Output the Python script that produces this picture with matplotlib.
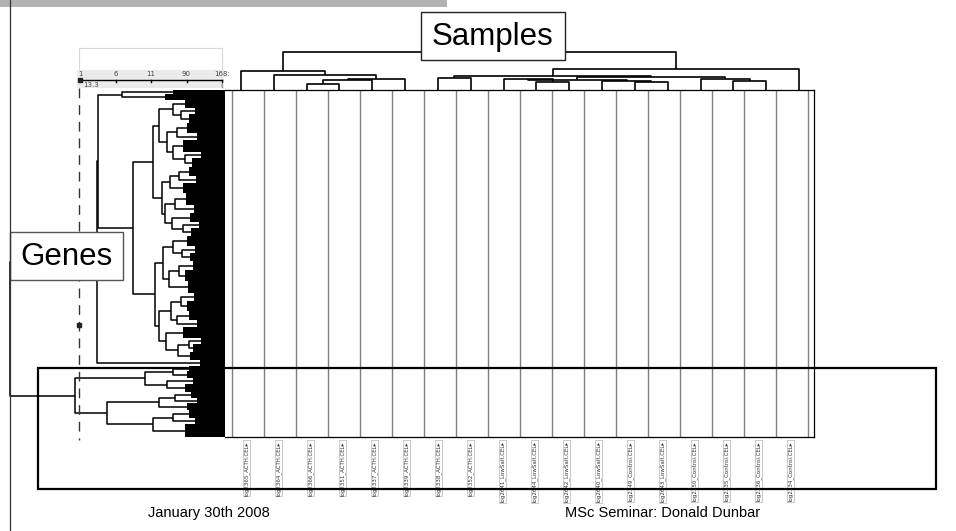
import matplotlib
matplotlib.use('Agg')
import matplotlib.pyplot as plt
from matplotlib.patches import Rectangle
import numpy as np

W, H = 956, 531

# ---- data ----
samples = ["log2365_ACTH.CEL", "log2364_ACTH.CEL", "log2366_ACTH.CEL", "log2351_ACTH.CEL",
           "log2337_ACTH.CEL", "log2339_ACTH.CEL", "log2338_ACTH.CEL", "log2352_ACTH.CEL",
           "log2641_LowSalt.CEL", "log2644_LowSalt.CEL", "log2642_LowSalt.CEL", "log2640_LowSalt.CEL",
           "log2349_Control.CEL", "log2643_LowSalt.CEL", "log2350_Control.CEL", "log2335_Control.CEL",
           "log2336_Control.CEL", "log2334_Control.CEL"]

# sample tree merges: (child a, child b, height); leaves 0..17, new nodes numbered from 18
sample_merges = [
    (2, 3, 6), (18, 4, 10), (19, 5, 11), (1, 20, 15), (0, 21, 19),
    (6, 7, 12), (9, 10, 8.5), (8, 24, 11), (12, 13, 8), (11, 26, 9.5),
    (25, 27, 10), (15, 16, 9), (14, 29, 11), (28, 30, 13), (23, 31, 14),
    (32, 17, 21), (22, 33, 38),
]

# gene tree: [height, left, right] for joins, (n_genes, height) for collapsed leaf groups
gene_A = [103, (4, 52), (6, 60)]
gene_Q1 = [72,
           [66, [52, (8, 40), [44, (6, 30), (9, 36)]],
                [58, [48, (10, 38), (7, 28)], [52, (12, 42), [40, (6, 24), (9, 33)]]]],
           [63, [55, [46, (9, 36), (7, 29)], (10, 42)],
                [60, [50, (12, 39), (8, 31)], [53, (9, 35), [42, (6, 26), (8, 34)]]]]]
gene_Q2 = [70,
           [62, [52, (10, 38), [43, (7, 30), (8, 35)]],
                [56, [46, (9, 32), (11, 40)], (12, 37)]],
           [66, [54, [44, (8, 31), (10, 38)], [48, (9, 36), (7, 28)]],
                [59, (11, 42), [47, [36, (6, 24), (8, 32)], (8, 35)]]]]
gene_C = (6, 25)
gene_L = [150,
          [80, [52, (5, 36), (7, 38)], [58, (6, 32), (8, 40)]],
          [118, [66, [50, (6, 34), (5, 28)], (7, 38)], [72, [52, (8, 36), (6, 30)], (13, 40)]]]
gene_tree = [215, [128, [127, gene_A, [92, gene_Q1, gene_Q2]], gene_C], gene_L]
cut_height = 146
cut_row = 235

scale_labels = ["1", "6", "11", "90", "168:"]
scale_value = "13.3"


def rect(x0, y0, x1, y1):
    return [x0 / W, 1 - y1 / H, (x1 - x0) / W, (y1 - y0) / H]


def count(node):
    if isinstance(node, tuple):
        return node[0]
    return count(node[1]) + count(node[2])


fig = plt.figure(figsize=(W / 100, H / 100), dpi=100)

# ---- gene dendrogram ----
ax_g = fig.add_axes(rect(5, 90, 225, 437))
n_genes = count(gene_tree)
ax_g.set_xlim(220, 0)
ax_g.set_ylim(n_genes, 0)
ax_g.axis('off')


def draw_gene(node, row):
    if isinstance(node, tuple):
        n, h = node
        ax_g.add_patch(Rectangle((0, row), h, n, fc='black', ec='none'))
        return row + n / 2, h, row + n
    h, left, right = node
    c1, h1, row = draw_gene(left, row)
    c2, h2, row = draw_gene(right, row)
    ax_g.plot([h1, h, h, h2], [c1, c1, c2, c2], color='black', lw=1.1, solid_capstyle='butt')
    return (c1 + c2) / 2, h, row


draw_gene(gene_tree, 0)
ax_g.plot([cut_height, cut_height], [-2, n_genes + 3], color='#333333', lw=1,
          dashes=(7, 5), clip_on=False)
ax_g.plot(cut_height, cut_row, 's', ms=3.5, color='#222222', clip_on=False)

# ---- heatmap frame ----
ax_h = fig.add_axes(rect(225, 90, 814, 437))
ns = len(samples)
ax_h.set_xlim(-7 / 32, ns + 6 / 32)
ax_h.set_ylim(0, 1)
ax_h.vlines(np.arange(ns + 1), 0, 1, color='#808080', lw=1)
for s in ['top', 'bottom', 'right']:
    ax_h.spines[s].set_linewidth(0.9)
ax_h.spines['left'].set_visible(False)
ax_h.set_yticks([])
ax_h.set_xticks(np.arange(ns) + 0.45, [s + "\u25b8" for s in samples],
                rotation=90, fontsize=4, family='DejaVu Sans', color='#333333')
ax_h.tick_params(axis='x', length=0, pad=3)
for t in ax_h.get_xticklabels():
    t.set_bbox(dict(fc='white', ec='#b5b5b5', lw=0.5, pad=0.6))

# ---- sample dendrogram ----
ax_d = fig.add_axes(rect(224.6, 40, 815.4, 90))
ax_d.set_xlim(-0.5, ns - 0.5)
ax_d.set_ylim(0, 50)
ax_d.axis('off')
pos = {i: (float(i), 0.0) for i in range(ns)}
for k, (a, b, h) in enumerate(sample_merges):
    xa, ha = pos[a]
    xb, hb = pos[b]
    ax_d.plot([xa, xa, xb, xb], [ha, h, h, hb], color='black', lw=1.2, solid_capstyle='butt')
    pos[ns + k] = ((xa + xb) / 2, h)

# ---- distance slider ----
ax_top = fig.add_axes(rect(79, 48, 222, 70))
ax_top.set_xticks([])
ax_top.set_yticks([])
for s in ax_top.spines.values():
    s.set_color('#d8d8d8')
    s.set_linewidth(0.8)

ax_s = fig.add_axes(rect(77, 70, 224, 88), facecolor='#ebebeb')
ax_s.set_xlim(-3 / 35.5, len(scale_labels) - 1 + 2 / 35.5)
ax_s.set_ylim(18, 0)
ax_s.set_xticks([])
ax_s.set_yticks([])
for s in ax_s.spines.values():
    s.set_visible(False)
ax_s.plot([0, len(scale_labels) - 1], [10, 10], color='black', lw=1)
for i, lab in enumerate(scale_labels):
    ax_s.text(i, 4, lab, fontsize=5, ha='center', va='center', color='#444444')
    if i > 0:
        ax_s.plot([i, i], [10, 12], color='black', lw=1)
ax_s.plot(0, 10, 's', ms=3.5, color='#222222')
ax_s.text(0.08, 15, scale_value, fontsize=5, ha='left', va='center', color='#444444')
ax_s.text(len(scale_labels) - 1, 15, "(", fontsize=5, ha='center', va='center', color='#444444')

# ---- slide overlay ----
ax0 = fig.add_axes([0, 0, 1, 1])
ax0.set_xlim(0, W)
ax0.set_ylim(H, 0)
ax0.axis('off')
ax0.set_zorder(10)
ax0.add_patch(Rectangle((0, 0), 447, 7, fc='#b3b3b3', ec='none'))
ax0.plot([10, 10], [0, H], color='#333333', lw=0.9)
ax0.add_patch(Rectangle((421, 12), 144, 48, fc='white', ec='#222222', lw=1))
ax0.text(493, 37, "Samples", fontsize=22.5, ha='center', va='center', family='Liberation Sans')
ax0.add_patch(Rectangle((10, 232), 113, 48, fc='white', ec='#555555', lw=1))
ax0.text(66.5, 257, "Genes", fontsize=22.5, ha='center', va='center', family='Liberation Sans')
ax0.add_patch(Rectangle((38, 368), 898, 121, fill=False, ec='black', lw=1.6))
ax0.text(148, 513, "January 30th 2008", fontsize=10.5, ha='left', va='center', family='Liberation Sans')
ax0.text(565, 513, "MSc Seminar: Donald Dunbar", fontsize=10.5, ha='left', va='center',
         family='Liberation Sans')

fig.savefig('out.png', dpi=100)
